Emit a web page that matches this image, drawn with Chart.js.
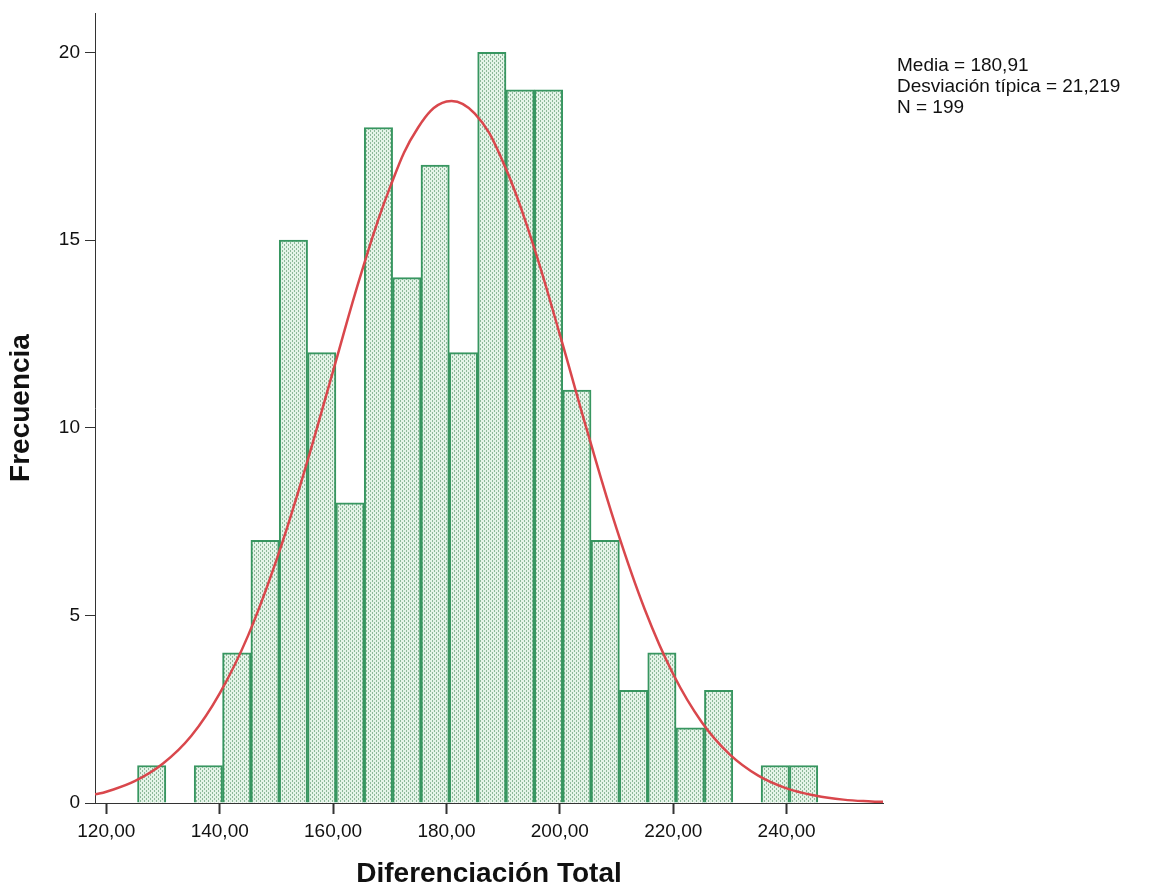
<!DOCTYPE html>
<html>
<head>
<meta charset="utf-8">
<script src="https://cdn.jsdelivr.net/npm/chart.js@4.4.0/dist/chart.umd.min.js"></script>
<style>
  html, body { margin: 0; padding: 0; background: #fff; }
</style>
</head>
<body>
<canvas id="hist" width="1154" height="892"></canvas>
<script>
// Histogram bins (width 5, edges at x.5) and frequencies
const binCenters = [128, 133, 138, 143, 148, 153, 158, 163, 168, 173, 178, 183,
                    188, 193, 198, 203, 208, 213, 218, 223, 228, 233, 238, 243];
const counts = [1, 0, 1, 4, 7, 15, 12, 8, 18, 14, 17, 12,
                20, 19, 19, 11, 7, 3, 4, 2, 3, 0, 1, 1];

// Normal curve
const curveX = [118, 120, 125, 130, 135, 140, 145, 150, 155, 160, 165, 170, 175, 180,
                185, 190, 195, 200, 205, 210, 215, 220, 225, 230, 235, 240, 245, 250, 255, 257];
const curveY = [0.23, 0.30, 0.58, 1.05, 1.79, 2.92, 4.46, 6.47, 8.87, 11.51, 14.13, 16.39, 18.00, 18.69,
                18.37, 17.07, 15.01, 12.48, 9.82, 7.31, 5.15, 3.43, 2.16, 1.29, 0.73, 0.39, 0.20, 0.09, 0.04, 0.03];

const xTicks = [120, 140, 160, 180, 200, 220, 240];
const yTicks = [0, 5, 10, 15, 20];
const statLines = ["Media = 180,91", "Desviación típica = 21,219", "N = 199"];

// dotted fill like the SPSS bars
const pc = document.createElement('canvas');
pc.width = 4; pc.height = 4;
const pctx = pc.getContext('2d');
pctx.fillStyle = '#e4f4e8';
pctx.fillRect(0, 0, 4, 4);
pctx.fillStyle = '#8db899';
pctx.fillRect(0, 0, 1, 2);
pctx.fillRect(2, 2, 1, 2);
const dotFill = pctx.createPattern(pc, 'repeat');

const statsBox = {
  id: 'statsBox',
  afterDraw(chart) {
    const ctx = chart.ctx;
    ctx.save();
    ctx.fillStyle = '#111';
    ctx.font = '19px "Liberation Sans", Arial, sans-serif';
    ctx.textBaseline = 'alphabetic';
    statLines.forEach((s, i) => ctx.fillText(s, 897, 71 + i * 21));
    ctx.restore();
  }
};

const axisFont = { family: '"Liberation Sans", Arial, sans-serif', size: 19 };
const titleFont = { family: '"Liberation Sans", Arial, sans-serif', size: 28, weight: 'bold' };
const fmt = v => v.toFixed(2).replace('.', ',');

new Chart(document.getElementById('hist'), {
  type: 'bar',
  data: {
    datasets: [
      {
        type: 'line',
        data: curveX.map((x, i) => ({ x: x, y: curveY[i] })),
        borderColor: '#d9474c',
        borderWidth: 2.5,
        pointRadius: 0,
        tension: 0.4,
        fill: false,
        order: 0
      },
      {
        type: 'bar',
        data: binCenters.map((x, i) => ({ x: x, y: counts[i] })),
        backgroundColor: dotFill,
        borderColor: '#379660',
        borderWidth: 2,
        borderSkipped: 'start',
        barPercentage: 1,
        categoryPercentage: 1,
        order: 1
      }
    ]
  },
  options: {
    responsive: false,
    animation: false,
    devicePixelRatio: 1,
    layout: { padding: { top: 13, right: 271, left: 0, bottom: 0 } },
    plugins: { legend: { display: false }, tooltip: { enabled: false } },
    scales: {
      x: {
        type: 'linear',
        offset: false,
        min: 118,
        max: 257,
        afterBuildTicks: s => { s.ticks = xTicks.map(v => ({ value: v })); },
        afterFit: s => { s.height = 89; },
        grid: { display: true, offset: false, drawOnChartArea: false, drawTicks: true, tickLength: 11, tickWidth: 2, color: '#333' },
        border: { display: true, color: '#333', width: 1 },
        ticks: { color: '#111', font: axisFont, padding: 6, maxRotation: 0, callback: v => fmt(v) },
        title: { display: true, text: 'Diferenciación Total', color: '#111', font: titleFont, padding: { top: 0, bottom: 1 } }
      },
      y: {
        min: 0,
        max: 21.05,
        afterBuildTicks: s => { s.ticks = yTicks.map(v => ({ value: v })); },
        afterFit: s => { s.width = 95; s.paddingTop = 0; s.paddingBottom = 0; },
        grid: { display: true, drawOnChartArea: false, drawTicks: true, tickLength: 10, color: '#333' },
        border: { display: true, color: '#333', width: 1 },
        ticks: { color: '#111', font: axisFont, padding: 5 },
        title: { display: true, text: 'Frecuencia', color: '#111', font: titleFont, padding: { top: 4, bottom: 0 } }
      }
    }
  },
  plugins: [statsBox]
});
</script>
</body>
</html>
